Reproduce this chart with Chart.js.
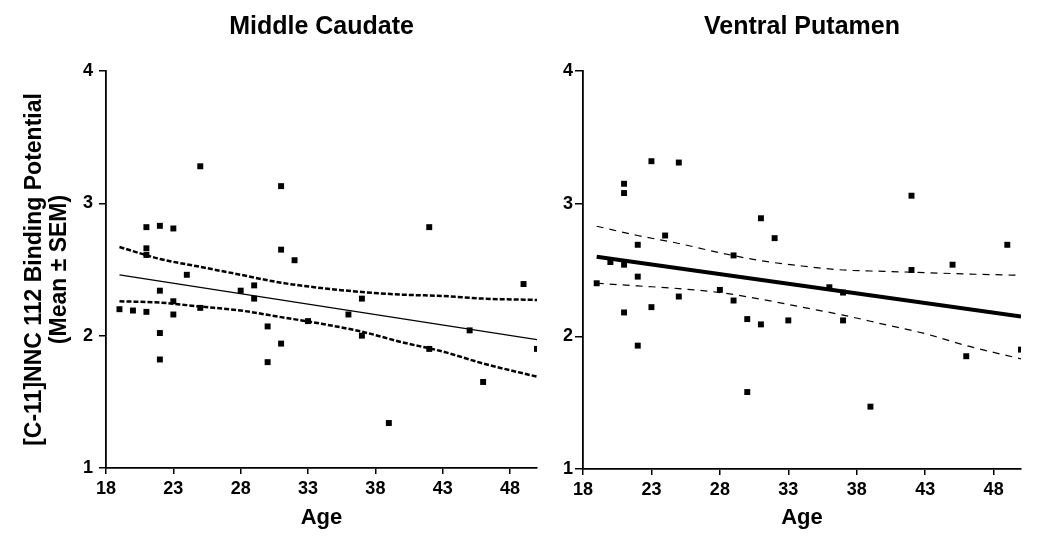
<!DOCTYPE html>
<html>
<head>
<meta charset="utf-8">
<script src="https://cdn.jsdelivr.net/npm/chart.js@4.4.0/dist/chart.umd.min.js"></script>
<style>
    body { margin: 0; background: #fff; width: 1050px; height: 546px; position: relative; overflow: hidden; }
    .box { position: absolute; top: 0; height: 546px; }
    #leftBox { left: 0; width: 545px; }
    #rightBox { left: 545px; width: 505px; }
</style>
</head>
<body>
<div class="box" id="leftBox"><canvas id="caudateChart"></canvas></div>
<div class="box" id="rightBox"><canvas id="putamenChart"></canvas></div>
<script>
// tick labels
const ageTicks = [18, 23, 28, 33, 38, 43, 48];
const bpTicks = [1, 2, 3, 4];

// Middle Caudate scatter
const caudateAges = [19, 20, 21, 21, 21, 21, 22, 22, 22, 22, 23, 23, 23, 24, 25, 25, 28, 29, 29, 30, 30, 31, 31, 31, 32, 33, 36, 37, 37, 39, 42, 42, 45, 46, 49, 50];
const caudateBP = [2.20, 2.19, 2.82, 2.66, 2.61, 2.18, 2.83, 2.34, 2.02, 1.82, 2.81, 2.26, 2.16, 2.46, 3.28, 2.21, 2.34, 2.38, 2.28, 2.07, 1.80, 3.13, 2.65, 1.94, 2.57, 2.11, 2.16, 2.28, 2.00, 1.34, 2.82, 1.90, 2.04, 1.65, 2.39, 1.90];

// Ventral Putamen scatter
const putamenAges = [19, 20, 21, 21, 21, 21, 22, 22, 22, 23, 23, 24, 25, 25, 28, 29, 29, 30, 30, 31, 31, 32, 33, 36, 37, 37, 39, 42, 42, 45, 46, 49, 50];
const putamenBP = [2.40, 2.56, 3.15, 3.08, 2.54, 2.18, 2.69, 2.45, 1.93, 3.32, 2.22, 2.76, 3.31, 2.30, 2.35, 2.61, 2.27, 2.13, 1.58, 2.89, 2.09, 2.74, 2.12, 2.37, 2.33, 2.12, 1.47, 3.06, 2.50, 2.54, 1.85, 2.69, 1.90];

// regression lines (end points) and 95% bands
const fitAges = [19, 50];
const caudateFit = [2.46, 1.97];
const putamenFit = [2.60, 2.15];
const bandAges = [19, 22, 25, 28, 31, 34, 37, 40, 43, 46, 50];
const caudateUpper = [2.67, 2.58, 2.52, 2.46, 2.40, 2.36, 2.33, 2.31, 2.30, 2.28, 2.27];
const caudateLower = [2.26, 2.25, 2.22, 2.19, 2.14, 2.09, 2.03, 1.95, 1.88, 1.79, 1.69];
const putamenUpper = [2.83, 2.76, 2.70, 2.63, 2.57, 2.53, 2.50, 2.49, 2.48, 2.47, 2.46];
const putamenLower = [2.40, 2.38, 2.36, 2.33, 2.28, 2.22, 2.16, 2.09, 2.02, 1.93, 1.83];

const FONT = "'Liberation Sans', Arial, sans-serif";

function toXY(xs, ys) {
    return xs.map((x, i) => ({ x: x, y: ys[i] }));
}

function makeChart(id, c) {
    const ctx = document.getElementById(id).getContext('2d');
    return new Chart(ctx, {
        type: 'scatter',
        data: {
            datasets: [
                { data: toXY(c.ages, c.bp), pointStyle: 'rect', pointRadius: 4.2, backgroundColor: '#000', borderWidth: 0 },
                { data: toXY(fitAges, c.fit), showLine: true, pointRadius: 0, borderColor: '#000', borderWidth: c.fitWidth },
                { data: toXY(bandAges, c.upper), showLine: true, pointRadius: 0, borderColor: '#000', borderWidth: c.bandWidth, borderDash: c.bandDash, cubicInterpolationMode: 'monotone' },
                { data: toXY(bandAges, c.lower), showLine: true, pointRadius: 0, borderColor: '#000', borderWidth: c.bandWidth, borderDash: c.bandDash, cubicInterpolationMode: 'monotone' }
            ]
        },
        options: {
            responsive: true,
            maintainAspectRatio: false,
            animation: false,
            layout: { padding: { left: 0, right: c.padRight, top: 0, bottom: 0 } },
            plugins: {
                legend: { display: false },
                tooltip: { enabled: false },
                title: {
                    display: true,
                    text: c.title,
                    fullSize: false,
                    color: '#000',
                    font: { family: FONT, size: 25, weight: 'bold' },
                    padding: { top: 12, bottom: 29 }
                }
            },
            scales: {
                x: {
                    type: 'linear',
                    min: 18,
                    max: 50,
                    afterBuildTicks: s => { s.ticks = ageTicks.map(v => ({ value: v })); },
                    afterFit: s => { s.height = 546 - c.bottom; },
                    grid: { drawOnChartArea: false, drawTicks: true, tickLength: 6, color: '#000', lineWidth: 1.5 },
                    border: { display: true, color: '#000', width: 1.8 },
                    ticks: { color: '#000', padding: 4, maxRotation: 0, font: { family: FONT, size: 18, weight: 'bold' } },
                    title: { display: true, text: 'Age', color: '#000', padding: { top: 0, bottom: 15 }, font: { family: FONT, size: 22, weight: 'bold' } }
                },
                y: {
                    type: 'linear',
                    min: 1,
                    max: 4,
                    afterBuildTicks: s => { s.ticks = bpTicks.map(v => ({ value: v })); },
                    afterFit: s => { s.width = c.yWidth; },
                    grid: { drawOnChartArea: false, drawTicks: true, tickLength: c.yTick, color: '#000', lineWidth: 1.5 },
                    border: { display: true, color: '#000', width: 1.8 },
                    ticks: { color: '#000', padding: c.yPad, font: { family: FONT, size: 18, weight: 'bold' } },
                    title: {
                        display: !!c.yTitle,
                        text: c.yTitle || '',
                        color: '#000',
                        padding: { top: 23, bottom: 0 },
                        font: { family: FONT, size: 23, weight: 'bold', lineHeight: 1.05 }
                    }
                }
            }
        }
    });
}

makeChart('caudateChart', {
    title: 'Middle Caudate',
    ages: caudateAges, bp: caudateBP,
    fit: caudateFit, upper: caudateUpper, lower: caudateLower,
    fitWidth: 1.2, bandWidth: 2.5, bandDash: [5, 2],
    yWidth: 106, yTick: 7, yPad: 6, padRight: 8, bottom: 468,
    yTitle: ['[C-11]NNC 112 Binding Potential', '(Mean \u00B1 SEM)']
});

makeChart('putamenChart', {
    title: 'Ventral Putamen',
    ages: putamenAges, bp: putamenBP,
    fit: putamenFit, upper: putamenUpper, lower: putamenLower,
    fitWidth: 4, bandWidth: 1.2, bandDash: [7, 6],
    yWidth: 38, yTick: 8, yPad: 2, padRight: 29, bottom: 469,
    yTitle: null
});
</script>
</body>
</html>
